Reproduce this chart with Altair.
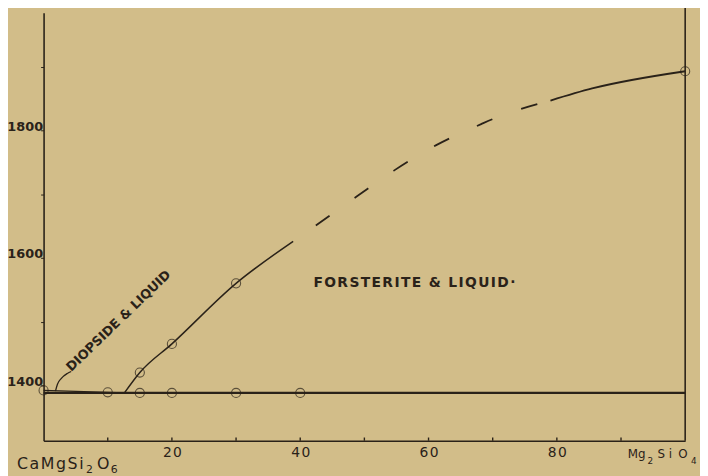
import altair as alt
import pandas as pd

# ---- data (x = % Mg2SiO4, y = temperature) ----
solidus_x = [0, 100]
solidus_t = [1388, 1388]

diop_liq_x = [0, 12.6]
diop_liq_t = [1392, 1388]

fo_solid_x = [12.6, 15, 20, 30, 38.9]
fo_solid_t = [1388, 1420, 1465, 1560, 1626]

fo_dash_x = [38.9, 42.3, 48.9, 54.6, 61.2, 68.2, 70.5, 79]
fo_dash_t = [1626, 1650, 1697, 1737, 1777, 1810, 1820, 1847]

fo_end_x = [79, 85.5, 100]
fo_end_t = [1847, 1866, 1893]

obs_x = [0, 10, 15, 20, 30, 40, 15, 20, 30, 100]
obs_t = [1392, 1389, 1388, 1388, 1388, 1388, 1420, 1465, 1560, 1893]

leader_x = [1.85, 2.16, 2.77, 3.70, 4.31]
leader_t = [1390.7, 1401.6, 1410.9, 1418.6, 1421.7]

x_tick_labels = [20, 40, 60, 80]
y_tick_values = [1400, 1500, 1600, 1700, 1800, 1900]
minor_x = [10, 20, 30, 40, 50, 60, 70, 80, 90]

region_labels = ["FORSTERITE & LIQUID·", "DIOPSIDE & LIQUID"]
region_x = [57.8, 11.7]
region_t = [1561, 1501]

X_DOMAIN = [0, 100]
Y_DOMAIN = [1313, 1985]

INK = "#2a2219"
BG = "#d2bd89"
HAIR = "\u200a"

xs = alt.Scale(domain=X_DOMAIN, nice=False, zero=False)
ys = alt.Scale(domain=Y_DOMAIN, nice=False, zero=False)


def df(x, t):
    return pd.DataFrame({"x": x, "t": t})


base_x = alt.X(
    "x:Q",
    scale=xs,
    title=None,
    axis=alt.Axis(
        values=x_tick_labels,
        ticks=False,
        grid=False,
        labelPadding=5,
        labelExpr="join(split(datum.label, ''), '\u200a')",
        labelFont="DejaVu Sans",
        labelFontSize=14,
        labelColor=INK,
        labelBaseline="top",
        domainColor=INK,
        domainWidth=1.6,
    ),
)
base_y = alt.Y(
    "t:Q",
    scale=ys,
    title=None,
    axis=alt.Axis(
        values=y_tick_values,
        labelExpr="datum.value % 200 == 0 ? datum.label : ''",
        format="d",
        grid=False,
        ticks=True,
        tickSize=3,
        tickColor=INK,
        labelPadding=-2,
        labelFont="DejaVu Sans",
        labelFontWeight="bold",
        labelFontSize=13,
        labelColor=INK,
        labelBaseline="alphabetic",
        domainColor=INK,
        domainWidth=1.6,
    ),
)

X = alt.X("x:Q", scale=xs)
Y = alt.Y("t:Q", scale=ys)

solidus = alt.Chart(df(solidus_x, solidus_t)).mark_line(
    color=INK, strokeWidth=2.4
).encode(x=base_x, y=base_y)

diop_liq = alt.Chart(df(diop_liq_x, diop_liq_t)).mark_line(
    color=INK, strokeWidth=1.2
).encode(x=X, y=Y)

fo_solid = alt.Chart(df(fo_solid_x, fo_solid_t)).mark_line(
    color=INK, strokeWidth=1.5, interpolate="monotone"
).encode(x=X, y=Y)

fo_dash = alt.Chart(df(fo_dash_x, fo_dash_t)).mark_line(
    color=INK, strokeWidth=1.8, interpolate="monotone",
    strokeDash=[17, 31], strokeDashOffset=20
).encode(x=X, y=Y)

fo_end = alt.Chart(df(fo_end_x, fo_end_t)).mark_line(
    color=INK, strokeWidth=1.8, interpolate="monotone"
).encode(x=X, y=Y)

points = alt.Chart(df(obs_x, obs_t)).mark_point(
    shape="circle", filled=False, color=INK, size=85, strokeWidth=1.1
).encode(x=X, y=Y)

leader = alt.Chart(df(leader_x, leader_t)).mark_line(
    color=INK, strokeWidth=1.3, interpolate="monotone"
).encode(x=X, y=Y)

right_edge = alt.Chart(pd.DataFrame({"x": [100], "t": [Y_DOMAIN[0]], "t2": [2000]})).mark_rule(
    color=INK, strokeWidth=1.6
).encode(x=X, y=Y, y2="t2:Q")

minor_ticks = alt.Chart(pd.DataFrame({"x": minor_x, "t": [Y_DOMAIN[0]] * len(minor_x),
                                      "t2": [Y_DOMAIN[0] + 5] * len(minor_x)})).mark_rule(
    color=INK, strokeWidth=1.4
).encode(x=X, y=Y, y2="t2:Q")

lab_df = pd.DataFrame({"x": region_x, "t": region_t, "text": region_labels})
fo_df = lab_df.iloc[[0]].copy()
fo_df["text"] = fo_df["text"].map(lambda s: HAIR.join(list(s)))
fo_label = alt.Chart(fo_df).mark_text(
    font="DejaVu Sans", fontWeight="bold", fontSize=14, color=INK,
    align="center", baseline="middle"
).encode(x=X, y=Y, text="text:N")
di_label = alt.Chart(lab_df.iloc[[1]]).mark_text(
    font="DejaVu Sans", fontWeight="bold", fontSize=13, color=INK,
    align="center", baseline="middle", angle=316
).encode(x=X, y=Y, text="text:N")


def piece(txt, px, py, size):
    return alt.Chart(pd.DataFrame({"text": [txt]})).mark_text(
        font="DejaVu Sans", fontSize=size, color=INK, align="left", baseline="alphabetic"
    ).encode(x=alt.value(px), y=alt.value(py), text="text:N")


# CaMgSi2O6 (left end member)
left_formula = [
    piece(HAIR.join("CaMgSi"), -27, 462, 16),
    piece("2", 43, 466, 11),
    piece("O", 54, 462, 16),
    piece("6", 68, 466, 11),
]
# Mg2SiO4 (right end member)
right_formula = [
    piece("Mg", 591, 451, 12),
    piece("2", 611, 457, 9),
    piece("S i", 621, 451, 12),
    piece("O", 642, 451, 12),
    piece("4", 655, 457, 9),
]

chart = alt.layer(
    solidus, diop_liq, fo_solid, fo_dash, fo_end, points, leader,
    right_edge, minor_ticks, fo_label, di_label, *left_formula, *right_formula
).properties(
    width=649,
    height=433,
    background=BG,
    padding={"left": 36, "top": 2, "right": 15, "bottom": 33},
    autosize=alt.AutoSizeParams(type="none"),
).configure_view(stroke="transparent")

chart.save("out.html", embed_options={"renderer": "svg", "actions": False})
